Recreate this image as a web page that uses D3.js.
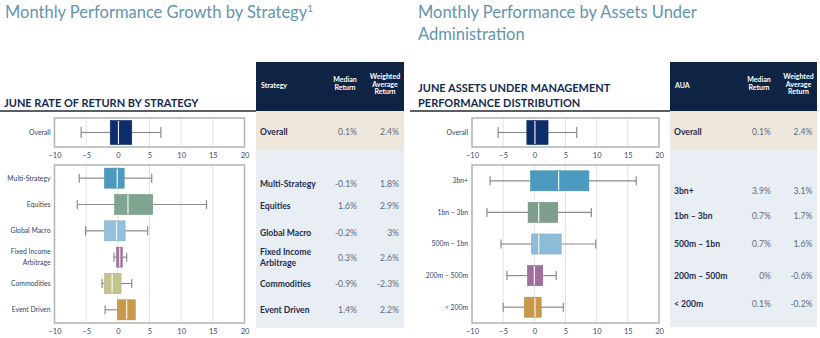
<!DOCTYPE html>
<html><head><meta charset="utf-8">
<script src="https://cdn.jsdelivr.net/npm/d3@7"></script>
<style>
body{margin:0;background:#fff;}
svg{display:block;font-family:Lato,"Open Sans",sans-serif;}
</style></head>
<body>
<svg id="chart" width="820" height="338"></svg>
<script>
// ---------- DATA ----------
const xTicks = [-10, -5, 0, 5, 10, 15, 20];

const overallLabel = ["Overall"];
const overallLow = [-5.8];
const overallQ1 = [-1.2];
const overallMedian = [0.1];
const overallQ3 = [2.2];
const overallHigh = [6.8];

const strategyCategories = ["Multi-Strategy", "Equities", "Global Macro", "Fixed Income Arbitrage", "Commodities", "Event Driven"];
const strategyLow = [-6.1, -6.4, -5.1, -0.6, -2.5, -2.0];
const strategyQ1 = [-2.1, -0.5, -2.1, -0.2, -2.1, -0.05];
const strategyMedian = [-0.1, 1.6, -0.2, 0.3, -0.9, 1.4];
const strategyQ3 = [1.0, 5.5, 1.15, 0.7, 0.5, 2.75];
const strategyHigh = [5.35, 14.0, 4.7, 1.4, 2.2, 2.75];
const strategyColors = ["#4a9bbf", "#7fa592", "#93c0dc", "#a3739e", "#c2c48b", "#c8994a"];

const auaCategories = ["3bn+", "1bn – 3bn", "500m – 1bn", "200m – 500m", "< 200m"];
const auaLow = [-7.1, -7.6, -5.35, -4.4, -5.0];
const auaQ1 = [-0.6, -1.0, -0.45, -1.1, -1.6];
const auaMedian = [3.9, 0.7, 0.7, 0.0, 0.1];
const auaQ3 = [8.75, 3.75, 4.3, 1.35, 1.1];
const auaHigh = [16.35, 9.15, 9.85, 3.5, 4.65];
const auaColors = ["#4a9bbf", "#7f9f8c", "#8bbcd8", "#a06e9c", "#c8994a"];

const overallColor = "#0c2d6b";

const strategyTableRows = ["Multi-Strategy", "Equities", "Global Macro", "Fixed Income Arbitrage", "Commodities", "Event Driven"];
const strategyTableMedian = ["-0.1%", "1.6%", "-0.2%", "0.3%", "-0.9%", "1.4%"];
const strategyTableWeighted = ["1.8%", "2.9%", "3%", "2.6%", "-2.3%", "2.2%"];
const strategyOverallMedian = "0.1%";
const strategyOverallWeighted = "2.4%";

const auaTableRows = ["3bn+", "1bn – 3bn", "500m – 1bn", "200m – 500m", "< 200m"];
const auaTableMedian = ["3.9%", "0.7%", "0.7%", "0%", "0.1%"];
const auaTableWeighted = ["3.1%", "1.7%", "1.6%", "-0.6%", "-0.2%"];
const auaOverallMedian = "0.1%";
const auaOverallWeighted = "2.4%";

// ---------- DRAW ----------
const svg = d3.select("#chart");
const navy = "#0f2444";
const titleColor = "#5f95ae";
const labelColor = "#34456b";

function boxPlot(parent, x, y, cats, low, q1, med, q3, high, colors, boxH) {
  const g = parent.append("g");
  const rows = cats.map((c, i) => ({c, lo: low[i], q1: q1[i], m: med[i], q3: q3[i], hi: high[i], col: colors[i]}));
  const capH = boxH * 0.45;
  const r = g.selectAll("g.row").data(rows).join("g").attr("class", "row")
    .attr("transform", d => `translate(0,${y(d.c) + y.bandwidth() / 2})`);
  r.append("line").attr("x1", d => x(d.lo)).attr("x2", d => x(d.q1)).attr("stroke", "#8c8c8c").attr("stroke-width", 1.2);
  r.append("line").attr("x1", d => x(d.q3)).attr("x2", d => x(d.hi)).attr("stroke", "#8c8c8c").attr("stroke-width", 1.2);
  r.append("line").attr("x1", d => x(d.lo)).attr("x2", d => x(d.lo)).attr("y1", -capH / 2).attr("y2", capH / 2).attr("stroke", "#8c8c8c").attr("stroke-width", 1.2);
  r.filter(d => d.hi > d.q3).append("line").attr("x1", d => x(d.hi)).attr("x2", d => x(d.hi)).attr("y1", -capH / 2).attr("y2", capH / 2).attr("stroke", "#8c8c8c").attr("stroke-width", 1.2);
  r.append("rect").attr("x", d => x(d.q1)).attr("width", d => x(d.q3) - x(d.q1))
    .attr("y", -boxH / 2).attr("height", boxH).attr("fill", d => d.col)
    .attr("stroke", d => d3.color(d.col).darker(0.3)).attr("stroke-width", 0.6);
  r.append("line").attr("x1", d => x(d.m)).attr("x2", d => x(d.m)).attr("y1", -boxH / 2 + 0.5).attr("y2", boxH / 2 - 0.5)
    .attr("stroke", "#fff").attr("stroke-width", 1.2).attr("opacity", 0.9);
}

function frame(parent, x, top, bottom) {
  const g = parent.append("g");
  const [x0, x1] = x.range();
  g.append("g").selectAll("line").data(xTicks.slice(1, -1)).join("line")
    .attr("x1", d => x(d)).attr("x2", d => x(d)).attr("y1", top).attr("y2", bottom)
    .attr("stroke", "#e2e2e2").attr("stroke-width", 1);
  g.append("rect").attr("x", x0).attr("y", top).attr("width", x1 - x0).attr("height", bottom - top)
    .attr("fill", "none").attr("stroke", "#b3b3b3").attr("stroke-width", 1.5);
  const ax = g.append("g").attr("transform", `translate(0,${bottom})`)
    .call(d3.axisBottom(x).tickValues(xTicks).tickSize(0).tickPadding(6));
  ax.select(".domain").remove();
  ax.selectAll("text").attr("font-size", 7.5).attr("fill", "#3c4a66").attr("font-family", "Lato, sans-serif");
}

function yLabels(parent, y, cats, xr) {
  const g = parent.append("g");
  g.selectAll("text.ylab").data(cats).join("text").attr("class", "ylab")
    .attr("x", xr).attr("y", d => y(d) + y.bandwidth() / 2)
    .attr("text-anchor", "end").attr("font-size", 6.8).attr("fill", labelColor)
    .each(function (d) {
      const t = d3.select(this);
      if (d === "Fixed Income Arbitrage") {
        t.append("tspan").attr("x", xr).attr("dy", "-0.4em").text("Fixed Income");
        t.append("tspan").attr("x", xr).attr("dy", "1.5em").text("Arbitrage");
      } else {
        t.attr("dy", "0.35em").text(d);
      }
    });
}

function panel(opt) {
  const g = svg.append("g");
  const x = d3.scaleLinear().domain([xTicks[0], xTicks[xTicks.length - 1]]).range([opt.px0, opt.px1]);
  // overall
  const yO = d3.scaleBand().domain(overallLabel).range([118, 147]).paddingInner(0).paddingOuter(0.1);
  frame(g, x, 118, 147);
  boxPlot(g, x, yO, overallLabel, overallLow, overallQ1, overallMedian, overallQ3, overallHigh, [overallColor], 24);
  yLabels(g, yO, overallLabel, opt.px0 - 4);
  // main
  const y = d3.scaleBand().domain(opt.cats).range([165, 323]).paddingInner(opt.pad).paddingOuter(opt.pad / 2);
  frame(g, x, 165, 323);
  boxPlot(g, x, y, opt.cats, opt.low, opt.q1, opt.med, opt.q3, opt.high, opt.colors, 20);
  yLabels(g, y, opt.cats, opt.px0 - 4);
}

function table(opt) {
  const g = svg.append("g");
  const {x0, x1} = opt;
  g.append("rect").attr("x", x0).attr("y", 62).attr("width", x1 - x0).attr("height", 49).attr("fill", navy);
  g.append("rect").attr("x", x0).attr("y", 111).attr("width", x1 - x0).attr("height", 39).attr("fill", "#efe7dc");
  g.append("rect").attr("x", x0).attr("y", 150).attr("width", x1 - x0).attr("height", opt.bottom - 150).attr("fill", "#e8eef4");
  const hf = 7;
  g.append("text").attr("x", x0 + 5).attr("y", 88).attr("font-size", hf).attr("font-weight", 700).attr("fill", "#fff").text(opt.head);
  const mc = opt.medRight - 12, wc = opt.wRight - 14;
  [["Median", 82], ["Return", 90]].forEach(([t, yy]) =>
    g.append("text").attr("x", mc).attr("y", yy).attr("text-anchor", "middle").attr("font-size", hf).attr("font-weight", 700).attr("fill", "#fff").text(t));
  [["Weighted", 79], ["Average", 86.5], ["Return", 94]].forEach(([t, yy]) =>
    g.append("text").attr("x", wc).attr("y", yy).attr("text-anchor", "middle").attr("font-size", hf).attr("font-weight", 700).attr("fill", "#fff").text(t));
  const fs = 8.6;
  const row = (label, m, w, yy) => {
    const t = g.append("text").attr("x", x0 + 4).attr("y", yy).attr("font-size", fs).attr("font-weight", 700).attr("fill", "#1f2d4d").attr("dy", "0.35em");
    if (label === "Fixed Income Arbitrage") {
      t.append("tspan").attr("x", x0 + 4).attr("dy", "-0.3em").text("Fixed Income");
      t.append("tspan").attr("x", x0 + 4).attr("dy", "1.25em").text("Arbitrage");
    } else t.text(label);
    g.append("text").attr("x", opt.medRight).attr("y", yy).attr("dy", "0.35em").attr("text-anchor", "end").attr("font-size", fs).attr("fill", "#5d6b7d").text(m);
    g.append("text").attr("x", opt.wRight).attr("y", yy).attr("dy", "0.35em").attr("text-anchor", "end").attr("font-size", fs).attr("fill", "#5d6b7d").text(w);
  };
  row("Overall", opt.oMed, opt.oW, 132);
  opt.rows.forEach((r, i) => row(r, opt.med[i], opt.w[i], opt.rowY[i]));
}

// Titles
svg.append("text").attr("x", 5).attr("y", 18).attr("font-size", 16.5).attr("fill", titleColor)
  .text("Monthly Performance Growth by Strategy")
  .append("tspan").attr("font-size", 10).attr("dy", "-0.6em").text("1");
svg.append("text").attr("x", 418).attr("y", 18).attr("font-size", 16.5).attr("fill", titleColor).text("Monthly Performance by Assets Under");
svg.append("text").attr("x", 418).attr("y", 40).attr("font-size", 16.5).attr("fill", titleColor).text("Administration");

svg.append("text").attr("x", 4).attr("y", 107).attr("font-size", 11).attr("font-weight", 700).attr("fill", "#142a52").text("JUNE RATE OF RETURN BY STRATEGY");
svg.append("text").attr("x", 418).attr("y", 91.5).attr("font-size", 11).attr("font-weight", 700).attr("fill", "#142a52").text("JUNE ASSETS UNDER MANAGEMENT");
svg.append("text").attr("x", 418).attr("y", 107).attr("font-size", 11).attr("font-weight", 700).attr("fill", "#142a52").text("PERFORMANCE DISTRIBUTION");
svg.append("line").attr("x1", 0).attr("x2", 256).attr("y1", 111).attr("y2", 111).attr("stroke", "#5a5f66").attr("stroke-width", 1.8);
svg.append("line").attr("x1", 410).attr("x2", 670).attr("y1", 111).attr("y2", 111).attr("stroke", "#5a5f66").attr("stroke-width", 1.8);

panel({px0: 54.5, px1: 244.5, cats: strategyCategories, low: strategyLow, q1: strategyQ1, med: strategyMedian, q3: strategyQ3, high: strategyHigh, colors: strategyColors, pad: 0.24});
panel({px0: 472, px1: 659, cats: auaCategories, low: auaLow, q1: auaQ1, med: auaMedian, q3: auaQ3, high: auaHigh, colors: auaColors, pad: 0.36});

table({x0: 256, x1: 404, bottom: 328, head: "Strategy", medRight: 357, wRight: 399,
  oMed: strategyOverallMedian, oW: strategyOverallWeighted,
  rows: strategyTableRows, med: strategyTableMedian, w: strategyTableWeighted,
  rowY: [184, 206, 232.5, 258, 284, 309.5]});
table({x0: 670, x1: 817, bottom: 327, head: "AUA", medRight: 771, wRight: 812.5,
  oMed: auaOverallMedian, oW: auaOverallWeighted,
  rows: auaTableRows, med: auaTableMedian, w: auaTableWeighted,
  rowY: [191, 215.5, 244, 276, 304]});
</script>
</body></html>
